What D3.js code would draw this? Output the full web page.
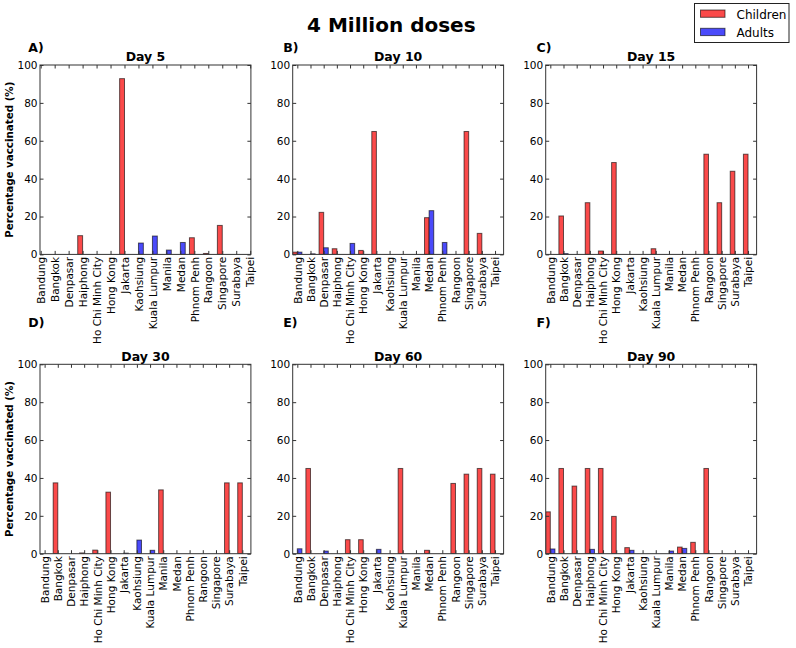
<!DOCTYPE html>
<html>
<head>
<meta charset="utf-8">
<script src="https://cdn.jsdelivr.net/npm/d3@7"></script>
<style>
  html, body { margin: 0; padding: 0; background: #fff; }
  svg { display: block; font-family: "DejaVu Sans", sans-serif; }
</style>
</head>
<body>
<svg id="chart" width="796" height="648"></svg>
<script>
// ---------------- data ----------------
const cities = ["Bandung","Bangkok","Denpasar","Haiphong","Ho Chi Minh City","Hong Kong","Jakarta","Kaohsiung","Kuala Lumpur","Manila","Medan","Phnom Penh","Rangoon","Singapore","Surabaya","Taipei"];
const days = ["Day 5","Day 10","Day 15","Day 30","Day 60","Day 90"];
const panelLetters = ["A)","B)","C)","D)","E)","F)"];
const seriesNames = ["Children","Adults"];
const yTicks = [0,20,40,60,80,100];

const children5  = [0,0,0,9.9,0,0,92.8,0,0,0,0,8.8,0.5,15.3,0,0];
const adults5    = [0,0,0,0,0,0,0,6.0,9.7,2.3,6.3,0,0,0,0,0];
const children10 = [1.2,0,22.2,3.0,0,2.1,64.9,0,0,0,19.4,0,0,64.9,11.1,0];
const adults10   = [1.2,0.3,3.5,0,5.8,0,0,0,0,0,23.1,6.3,0,0,0,0];
const children15 = [0,20.3,0,27.3,1.8,48.5,0,0,3.0,0,0,0,52.9,27.3,43.9,52.9];
const adults15   = [0,0.4,0,0,0,0,0,0,0,0,0,0,0,0,0,0];
const children30 = [0,37.4,0,0.4,1.9,32.5,0,0,0,33.7,0,0,0,0,37.4,37.4];
const adults30   = [0,0,0,0,0,0,0.3,7.2,1.8,0,0,0,0,0,0,0];
const children60 = [0,45.0,0,0,7.4,7.4,0,0,45.0,0,1.8,0,37.1,42.0,45.0,42.0];
const adults60   = [2.6,0,1.4,0,0,0,2.3,0,0,0,0,0,0,0,0,0];
const children90 = [22.1,45.0,35.7,45.0,45.0,19.7,3.2,0,0,0,3.5,6.0,45.0,0,0,0];
const adults90   = [2.5,0,0,2.3,0,0,1.8,0,0,1.4,2.8,0,0,0,0,0];

const childrenByDay = [children5, children10, children15, children30, children60, children90];
const adultsByDay   = [adults5, adults10, adults15, adults30, adults60, adults90];
// x-axis view limits per panel (category index units)
const xLimits = [[-0.05,15.05],[-0.35,15.65],[-0.35,15.65],[-0.35,15.65],[-0.35,15.65],[-0.35,15.65]];

// ---------------- layout / style ----------------
const barW = 0.35;
const colLefts = [40, 292.7, 545.7];
const rowTops = [65, 364.3];
const axW = 210.9, axH = 189.4;
const letterX = [28.3, 283.3, 536.5];
const letterBase = [51.5, 326.5];
const red = "rgb(250,74,74)", blue = "rgb(74,74,250)";
const edge = "rgba(0,0,0,0.6)";
const frameColor = "#333";
const tickFont = 10.5;

const svg = d3.select("#chart");

// suptitle
svg.append("text")
  .attr("x", 307).attr("y", 32)
  .attr("font-size", 20).attr("font-weight", "bold")
  .text("4 Million doses");

days.forEach((day, p) => {
  const col = p % 3, row = Math.floor(p / 3);
  const g = svg.append("g").attr("transform", `translate(${colLefts[col]},${rowTops[row]})`);

  const x = d3.scaleLinear().domain(xLimits[p]).range([0, axW]);
  const y = d3.scaleLinear().domain([0, 100]).range([axH, 0]);

  const clipId = "clip" + p;
  g.append("clipPath").attr("id", clipId)
    .append("rect").attr("width", axW).attr("height", axH);

  const bars = g.append("g").attr("clip-path", `url(#${clipId})`);
  const ch = childrenByDay[p], ad = adultsByDay[p];
  bars.selectAll("rect.children").data(ch.map((v, i) => ({v, i})).filter(d => d.v > 0))
    .join("rect").attr("class", "children")
    .attr("x", d => x(d.i - barW)).attr("width", d => x(d.i) - x(d.i - barW))
    .attr("y", d => y(d.v)).attr("height", d => y(0) - y(d.v))
    .attr("fill", red).attr("stroke", edge).attr("stroke-width", 1);
  bars.selectAll("rect.adults").data(ad.map((v, i) => ({v, i})).filter(d => d.v > 0))
    .join("rect").attr("class", "adults")
    .attr("x", d => x(d.i)).attr("width", d => x(d.i + barW) - x(d.i))
    .attr("y", d => y(d.v)).attr("height", d => y(0) - y(d.v))
    .attr("fill", blue).attr("stroke", edge).attr("stroke-width", 1);

  const idx = d3.range(cities.length);
  // axes
  const left = g.append("g").call(d3.axisLeft(y).tickValues(yTicks).tickSize(-3.5).tickPadding(2.5));
  const right = g.append("g").attr("transform", `translate(${axW},0)`)
    .call(d3.axisRight(y).tickValues(yTicks).tickSize(-3.5).tickFormat(""));
  const bottom = g.append("g").attr("transform", `translate(0,${axH})`)
    .call(d3.axisBottom(x).tickValues(idx).tickSize(-3.5).tickFormat(i => cities[i]));
  const top = g.append("g")
    .call(d3.axisTop(x).tickValues(idx).tickSize(-3.5).tickFormat(""));

  [left, right, bottom, top].forEach(a => {
    a.select(".domain").remove();
    a.selectAll("line").attr("stroke", frameColor);
    a.selectAll("text").attr("font-family", "DejaVu Sans").attr("font-size", tickFont).attr("fill", "#000");
  });
  bottom.selectAll("text")
    .attr("transform", "rotate(-90)")
    .attr("x", -2.5).attr("y", 0).attr("dy", "0.35em")
    .style("text-anchor", "end");

  // frame
  g.append("rect").attr("width", axW).attr("height", axH)
    .attr("fill", "none").attr("stroke", frameColor).attr("stroke-width", 1);

  // title
  g.append("text").attr("x", axW / 2).attr("y", -3.6)
    .attr("text-anchor", "middle").attr("font-size", 12.5).attr("font-weight", "bold")
    .text(day);

  // panel letter
  svg.append("text").attr("x", letterX[col]).attr("y", letterBase[row])
    .attr("font-size", 12.5).attr("font-weight", "bold").text(panelLetters[p]);

  // y label
  if (col === 0) {
    svg.append("text")
      .attr("transform", `translate(12.5,${rowTops[row] + axH / 2}) rotate(-90)`)
      .attr("text-anchor", "middle").attr("font-size", 10.3).attr("font-weight", "bold")
      .text("Percentage vaccinated (%)");
  }
});

// legend
const lg = svg.append("g");
lg.append("rect").attr("x", 694.5).attr("y", 3.5).attr("width", 94.5).attr("height", 39)
  .attr("fill", "#fff").attr("stroke", "#222").attr("stroke-width", 1);
[red, blue].forEach((c, k) => {
  lg.append("rect").attr("x", 700.5).attr("y", 10 + k * 18.3).attr("width", 24.5).attr("height", 7.3)
    .attr("fill", c).attr("stroke", edge).attr("stroke-width", 1);
  lg.append("text").attr("x", 736.5).attr("y", 19 + k * 18.3)
    .attr("font-size", 12).text(seriesNames[k]);
});
</script>
</body>
</html>
